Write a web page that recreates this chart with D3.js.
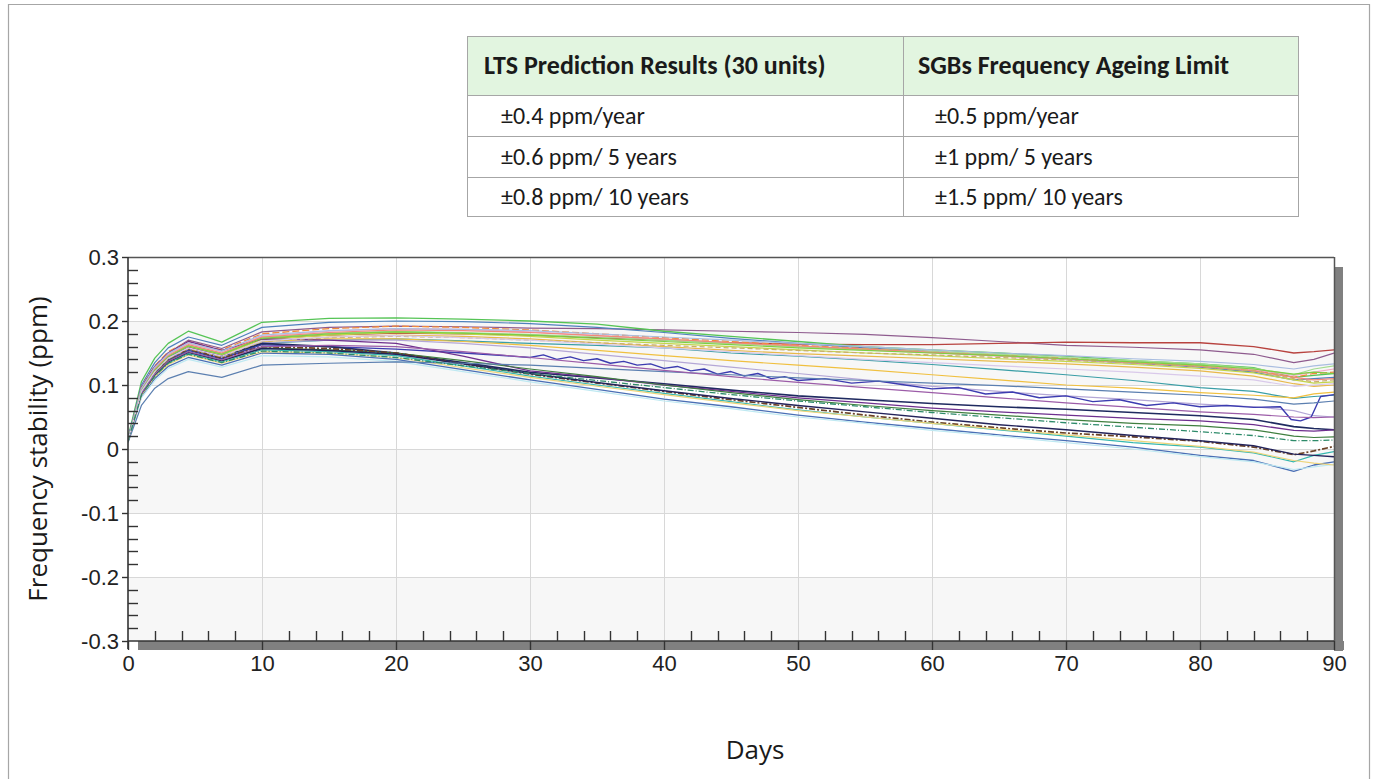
<!DOCTYPE html>
<html><head><meta charset="utf-8">
<script src="https://cdn.jsdelivr.net/npm/d3@7"></script>
<style>body{margin:0;background:#fff;} svg{display:block}</style>
</head><body><svg id="c" width="1375" height="779"></svg>
<script>
// ---------- DATA ----------
const days = [0,1,2,3,4.5,7,10,15,20,25,30,35,40,45,50,55,60,65,70,75,80,84,87,88.5,90];

const unit01 = [.015,.095,.128,.150,.170,.157,.183,.190,.192,.191,.189,.188,.186,.184,.182,.179,.174,.168,.162,.159,.155,.148,.135,.140,.150];
const unit02 = [.012,.090,.121,.142,.160,.148,.172,.178,.181,.180,.178,.174,.170,.166,.164,.163,.163,.165,.167,.166,.166,.160,.150,.152,.155];
const unit03 = [.018,.105,.142,.165,.184,.167,.198,.204,.205,.203,.200,.195,.184,.176,.168,.160,.155,.150,.145,.138,.133,.127,.112,.115,.118];
const unit04 = [.016,.100,.135,.158,.175,.162,.190,.198,.200,.199,.196,.190,.182,.173,.165,.158,.152,.146,.140,.134,.128,.120,.108,.110,.112];
const unit05 = [.014,.097,.130,.152,.168,.155,.180,.188,.192,.190,.186,.180,.174,.168,.162,.157,.152,.147,.142,.136,.130,.123,.112,.118,.120];
const unit06 = [.013,.094,.127,.148,.165,.152,.176,.184,.188,.187,.183,.177,.171,.165,.160,.155,.150,.145,.140,.135,.130,.124,.115,.120,.125];
const unit07 = [.012,.090,.122,.143,.160,.147,.171,.178,.182,.180,.176,.170,.165,.160,.155,.150,.146,.141,.137,.132,.126,.119,.108,.103,.105];
const unit08 = [.011,.088,.119,.140,.157,.144,.168,.175,.178,.176,.172,.166,.160,.154,.149,.145,.141,.137,.133,.128,.122,.114,.102,.098,.100];
const unit09 = [.014,.092,.124,.145,.162,.149,.174,.181,.184,.182,.179,.175,.170,.165,.160,.156,.152,.148,.143,.138,.133,.126,.116,.125,.130];
const unit10 = [.013,.088,.118,.139,.155,.141,.165,.170,.172,.169,.165,.162,.158,.150,.145,.139,.132,.124,.116,.107,.096,.090,.079,.082,.084];
const unit11 = [.013,.090,.121,.142,.158,.145,.168,.172,.172,.168,.162,.154,.146,.138,.131,.124,.116,.108,.100,.095,.088,.084,.080,.086,.089];
const unit12 = [.014,.089,.120,.140,.156,.143,.166,.170,.170,.165,.158,.148,.138,.128,.118,.108,.098,.090,.083,.077,.070,.066,.060,.052,.050];
// unit 13 (noisy dark blue) was read on a finer day grid
const unit13Days = [0,1,2,3,4.5,7,10,15,20,25,
  28,30,31,32,33,34,35,36,37,38,39,40,
  41,42,43,44,45,46,47,48,49,50,
  52,54,56,58,60,62,64,66,68,70,
  72,74,76,78,80,82,84,86,
  86.8,87.5,88.3,89,90];
const unit13 = [.013,.088,.119,.139,.154,.141,.163,.160,.156,.150,
  .146,.143,.147,.140,.144,.138,.141,.134,.137,.131,.133,.126,
  .129,.122,.125,.117,.121,.114,.118,.110,.113,.107,
  .110,.103,.106,.100,.094,.096,.086,.089,.080,.083,
  .074,.077,.068,.072,.066,.068,.065,.066,
  .046,.044,.050,.082,.085];
const unit14 = [.014,.090,.122,.143,.158,.145,.165,.160,.150,.135,.120,.111,.102,.092,.083,.077,.071,.066,.062,.057,.052,.046,.035,.032,.030];
const unit15 = [.015,.096,.129,.150,.168,.154,.172,.170,.165,.145,.122,.112,.100,.090,.080,.072,.064,.058,.053,.048,.044,.038,.029,.028,.030];
const unit16 = [.013,.088,.118,.138,.152,.138,.158,.155,.150,.138,.125,.113,.100,.088,.077,.068,.060,.053,.046,.040,.036,.030,.020,.018,.019];
const unit17 = [.012,.090,.121,.141,.156,.142,.160,.157,.150,.133,.117,.103,.090,.077,.065,.053,.042,.033,.025,.019,.012,.003,-.009,-.003,.004];
const unit18 = [.013,.085,.114,.134,.149,.136,.155,.152,.146,.130,.114,.100,.087,.074,.061,.050,.040,.030,.020,.010,.003,-.006,-.020,-.010,-.004];
const unit19 = [.012,.082,.110,.129,.143,.131,.150,.148,.140,.124,.108,.093,.078,.066,.053,.042,.032,.022,.013,.003,-.010,-.018,-.035,-.025,-.020];
const unit20 = [.011,.080,.107,.126,.140,.128,.146,.144,.137,.121,.105,.090,.075,.063,.050,.040,.029,.020,.010,.000,-.012,-.020,-.032,-.028,-.024];
const unit21 = [.012,.084,.113,.132,.147,.134,.152,.150,.143,.127,.112,.098,.085,.072,.060,.050,.040,.031,.022,.013,.004,-.005,-.018,-.022,-.025];
const unit22 = [.013,.086,.116,.136,.151,.138,.157,.154,.148,.133,.118,.104,.091,.079,.068,.058,.048,.038,.030,.021,.013,.005,-.008,-.010,-.012];
const unit23 = [.010,.068,.095,.110,.121,.112,.131,.134,.136,.134,.131,.126,.121,.116,.111,.107,.103,.099,.094,.089,.084,.078,.070,.072,.075];
const unit24 = [.014,.093,.125,.146,.163,.150,.175,.182,.186,.185,.182,.177,.172,.166,.161,.156,.151,.146,.141,.135,.129,.122,.112,.108,.110];
const unit25 = [.015,.095,.128,.149,.166,.153,.178,.185,.188,.187,.185,.180,.175,.170,.165,.160,.155,.150,.146,.141,.137,.132,.125,.130,.133];
const unit26 = [.012,.089,.120,.141,.157,.144,.168,.174,.176,.174,.170,.166,.162,.158,.154,.150,.147,.143,.139,.134,.129,.122,.110,.105,.108];
const unit27 = [.014,.091,.123,.144,.161,.148,.173,.180,.183,.181,.178,.173,.168,.163,.158,.154,.150,.146,.141,.136,.131,.125,.117,.120,.118];
const unit28 = [.013,.087,.117,.137,.152,.139,.160,.162,.160,.152,.143,.133,.123,.113,.104,.096,.088,.080,.072,.065,.058,.054,.050,.049,.050];
const unit29 = [.013,.090,.121,.142,.158,.145,.169,.175,.177,.174,.170,.164,.158,.152,.146,.140,.135,.130,.125,.120,.114,.108,.098,.100,.102];
const unit30 = [.012,.085,.114,.134,.148,.135,.153,.150,.143,.130,.118,.107,.096,.085,.075,.066,.057,.049,.041,.034,.027,.021,.013,.013,.014];

const unitSeries = [unit01,unit02,unit03,unit04,unit05,unit06,unit07,unit08,unit09,unit10,
  unit11,unit12,unit13,unit14,unit15,unit16,unit17,unit18,unit19,unit20,
  unit21,unit22,unit23,unit24,unit25,unit26,unit27,unit28,unit29,unit30];
const unitDayGrids = unitSeries.map(s => s === unit13 ? unit13Days : days);

const unitColors = ["#8e5b8e","#b8433f","#55c455","#4f81bd","#f08a3c","#f2a7c3","#c3d64b","#e8b84a","#a3dc8f","#3a9ea6",
  "#f0c040","#b4a7d6","#3c3cb0","#1f2a60","#6e2f8e","#3f7f3f","#6b4226","#36b8b0","#4a6fb5","#bfe9f2",
  "#eed47a","#23235a","#5b7fb0","#f2877a","#a9bde0","#c9ad6b","#7ccf43","#9c5ca8","#d9c9ea","#2e8b6a"];
const unitDashes = [null,null,null,null,"7,3",null,null,null,null,null,
  null,null,null,null,null,null,"6,2,2,2",null,null,null,
  null,null,null,null,null,"5,3",null,null,null,"6,2,1,2"];
const unitWidths = [1.2,1.3,1.3,1.2,1.3,1.2,1.2,1.2,1.2,1.2,
  1.2,1.2,1.4,1.6,1.3,1.2,1.7,1.2,1.3,1.2,
  1.2,1.4,1.2,1.2,1.2,1.2,1.2,1.2,1.2,1.3];

const yTicks = [-0.3,-0.2,-0.1,0,0.1,0.2,0.3];
const yTickLabels = ["-0.3","-0.2","-0.1","0","0.1","0.2","0.3"];
const xTicks = [0,10,20,30,40,50,60,70,80,90];
const xTickLabels = ["0","10","20","30","40","50","60","70","80","90"];

const tableHeader = ["LTS Prediction Results (30 units)","SGBs Frequency Ageing Limit"];
const tableCol1 = ["±0.4 ppm/year","±0.6 ppm/ 5 years","±0.8 ppm/ 10 years"];
const tableCol2 = ["±0.5 ppm/year","±1 ppm/ 5 years","±1.5 ppm/ 10 years"];

// ---------- DRAW ----------
const svg = d3.select("#c");
const W = 1375, H = 779;

// outer frame
svg.append("path").attr("d", `M8.5,${H} V4.5 H1369.5 V${H}`)
  .attr("fill","none").attr("stroke","#a6a6a6").attr("stroke-width",1.2);

// table
const tX0 = 467, tX1 = 1298, tXm = 903;
const rowY = [36, 95, 136, 177, 216];
const tbl = svg.append("g");
tbl.append("rect").attr("x",tX0).attr("y",rowY[0]).attr("width",tX1-tX0).attr("height",rowY[1]-rowY[0]).attr("fill","#e2f5e0");
tbl.append("rect").attr("x",tX0+0.5).attr("y",rowY[0]+0.5).attr("width",tX1-tX0).attr("height",rowY[4]-rowY[0])
  .attr("fill","none").attr("stroke","#a6a6a6");
rowY.slice(1,4).forEach(y => tbl.append("line").attr("x1",tX0).attr("x2",tX1).attr("y1",y+0.5).attr("y2",y+0.5).attr("stroke","#a6a6a6"));
tbl.append("line").attr("x1",tXm+0.5).attr("x2",tXm+0.5).attr("y1",rowY[0]).attr("y2",rowY[4]).attr("stroke","#a6a6a6");
const tFont = "Carlito, Calibri, 'Open Sans', sans-serif";
tbl.selectAll("text.h").data(tableHeader).join("text")
  .attr("x",(d,i)=> i===0 ? 484 : 918).attr("y",(rowY[0]+rowY[1])/2+8.5)
  .attr("font-family",tFont).attr("font-weight","bold").attr("font-size",26).attr("fill","#1a1a1a").text(d=>d);
tableCol1.forEach((t,i)=> tbl.append("text").attr("x",501).attr("y",(rowY[i+1]+rowY[i+2])/2+8)
  .attr("font-family",tFont).attr("font-size",24).attr("fill","#1a1a1a").text(t));
tableCol2.forEach((t,i)=> tbl.append("text").attr("x",935).attr("y",(rowY[i+1]+rowY[i+2])/2+8)
  .attr("font-family",tFont).attr("font-size",24).attr("fill","#1a1a1a").text(t));

// plot
const pL = 128, pR = 1334, pT = 257, pB = 641;
const x = d3.scaleLinear().domain([0,90]).range([pL,pR]);
const y = d3.scaleLinear().domain([-0.3,0.3]).range([pB,pT]);

// shadow
svg.append("rect").attr("x",pL+10).attr("y",pB).attr("width",pR-pL).attr("height",9).attr("fill","#808080");
svg.append("rect").attr("x",pR).attr("y",pT+10).attr("width",9).attr("height",pB-pT).attr("fill","#808080");

svg.append("rect").attr("x",pL).attr("y",pT).attr("width",pR-pL).attr("height",pB-pT).attr("fill","#ffffff");
// alternating bands
[[0.1,0.2],[-0.1,0],[-0.3,-0.2]].forEach(b => svg.append("rect")
  .attr("x",pL).attr("width",pR-pL).attr("y",y(b[1])).attr("height",y(b[0])-y(b[1])).attr("fill","#f7f7f7"));

// grid
const grid = svg.append("g").attr("stroke","#d8d8d8").attr("stroke-width",1);
xTicks.slice(1,-1).forEach(t => grid.append("line").attr("x1",Math.round(x(t))+0.5).attr("x2",Math.round(x(t))+0.5).attr("y1",pT).attr("y2",pB));
yTicks.slice(1,-1).forEach(t => grid.append("line").attr("y1",Math.round(y(t))+0.5).attr("y2",Math.round(y(t))+0.5).attr("x1",pL).attr("x2",pR));

// series
svg.append("clipPath").attr("id","clip").append("rect").attr("x",pL).attr("y",pT).attr("width",pR-pL).attr("height",pB-pT);
const lg = svg.append("g").attr("clip-path","url(#clip)");
unitSeries.forEach((s,k) => {
  const grid = unitDayGrids[k];
  const line = d3.line().x((d,i)=>x(grid[i])).y(d=>y(d));
  lg.append("path").attr("d",line(s)).attr("fill","none")
    .attr("stroke",unitColors[k]).attr("stroke-width",unitWidths[k])
    .attr("stroke-dasharray",unitDashes[k]).attr("stroke-linejoin","round");
});

// frame top/right
svg.append("line").attr("x1",pL).attr("x2",pR).attr("y1",pT+0.5).attr("y2",pT+0.5).attr("stroke","#555").attr("stroke-width",1.5);
svg.append("line").attr("x1",pR+0.5).attr("x2",pR+0.5).attr("y1",pT).attr("y2",pB).attr("stroke","#555").attr("stroke-width",1.5);

// axes
const axisColor = "#333";
const yAxis = d3.axisLeft(y).tickValues(yTicks).tickFormat((d,i)=>yTickLabels[i]).tickSize(6).tickPadding(3);
const gy = svg.append("g").attr("transform",`translate(${pL},0)`).call(yAxis);
const xAxis = d3.axisBottom(x).tickValues(xTicks).tickFormat((d,i)=>xTickLabels[i]).tickSize(9).tickPadding(5);
const gx = svg.append("g").attr("transform",`translate(0,${pB})`).call(xAxis);
[gx,gy].forEach(g => {
  g.select(".domain").attr("stroke",axisColor).attr("stroke-width",1.6);
  g.selectAll(".tick line").attr("stroke",axisColor).attr("stroke-width",1.4);
  g.selectAll(".tick text").attr("font-family","'Liberation Sans', Arial, sans-serif").attr("font-size",22).attr("fill","#222");
});
gy.select(".domain").attr("d",`M0,${pT}V${pB+8}`);
gx.select(".domain").attr("d",`M${pL},0H${pR}`);

// minor ticks
const yMinor = d3.range(-0.28, 0.3, 0.02).filter(v => Math.abs(Math.round(v*10)-v*10) > 0.01);
svg.append("g").selectAll("line").data(yMinor).join("line")
  .attr("x1",pL).attr("x2",pL+10).attr("y1",d=>Math.round(y(d))+0.5).attr("y2",d=>Math.round(y(d))+0.5)
  .attr("stroke",axisColor).attr("stroke-width",1.4);
const xMinor = d3.range(2, 90, 2).filter(v => v % 10 !== 0);
svg.append("g").selectAll("line").data(xMinor).join("line")
  .attr("y1",pB).attr("y2",pB-10).attr("x1",d=>Math.round(x(d))+0.5).attr("x2",d=>Math.round(x(d))+0.5)
  .attr("stroke",axisColor).attr("stroke-width",1.4);

// axis titles
svg.append("text").attr("transform","translate(47,449) rotate(-90)").attr("text-anchor","middle")
  .attr("font-family","'Open Sans', sans-serif").attr("font-size",26).attr("fill","#1a1a1a").text("Frequency stability (ppm)");
svg.append("text").attr("x",755).attr("y",759).attr("text-anchor","middle")
  .attr("font-family","'Open Sans', sans-serif").attr("font-size",26).attr("fill","#1a1a1a").text("Days");
</script></body></html>
